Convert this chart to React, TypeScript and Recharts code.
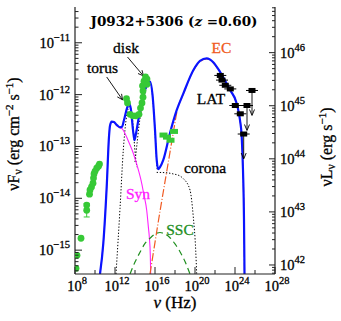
import React from "react";
import {
  ComposedChart,
  Line,
  Scatter,
  XAxis,
  YAxis,
  ErrorBar,
  ReferenceDot,
  ReferenceLine,
} from "recharts";

// all values are log10(nu / Hz) and log10(nuFnu / erg cm^-2 s^-1)
const totalModel = [
  [10.5, -15.46], [10.83, -14.87], [11.17, -13.78], [11.4, -12.81], [11.5, -12.6],
  [11.67, -12.52], [11.9, -12.53], [12.2, -12.59], [12.5, -12.63], [12.7, -12.62],
  [12.9, -12.49], [13.2, -12.26], [13.43, -12.17], [13.6, -12.3], [13.8, -12.68],
  [13.95, -12.88], [14.1, -12.75], [14.5, -12.3], [15.0, -11.91], [15.3, -11.78],
  [15.5, -11.75], [15.75, -12.0], [16.0, -12.68], [16.17, -13.26], [16.33, -13.44],
  [16.5, -13.4], [16.83, -13.26], [17.5, -12.74], [18.17, -12.3], [18.83, -11.98],
  [19.83, -11.53], [20.5, -11.35], [21.17, -11.3], [21.8, -11.37], [22.5, -11.56],
  [23.5, -11.91], [24.17, -12.17], [24.5, -12.49], [24.67, -12.81], [24.8, -13.46],
  [24.9, -14.42], [24.95, -15.46],
];
const synchrotron = [
  [10.5, -15.46], [10.83, -14.87], [11.17, -13.78], [11.4, -12.81], [11.5, -12.6],
  [11.67, -12.53], [11.9, -12.54], [12.2, -12.6], [12.5, -12.64], [12.67, -12.65],
  [13.0, -12.75], [13.3, -12.88], [13.83, -13.13], [14.2, -13.36], [14.67, -13.71],
  [14.9, -13.94], [15.17, -14.23], [15.35, -14.58], [15.43, -14.74], [15.53, -15.1],
  [15.57, -15.46],
];
const ssc = [
  [13.5, -15.46], [14.0, -15.23], [14.5, -15.04], [15.0, -14.87], [15.5, -14.77],
  [16.0, -14.69], [16.5, -14.66], [17.0, -14.69], [17.5, -14.76], [18.0, -14.88],
  [18.5, -15.03], [19.0, -15.22], [19.5, -15.46],
];
const externalCompton = [
  [15.5, -15.46], [16.0, -14.85], [16.5, -14.25], [17.0, -13.68], [17.5, -13.11],
  [17.9, -12.65], [18.17, -12.35], [18.83, -11.99], [19.83, -11.54], [20.5, -11.36],
  [21.17, -11.31], [21.8, -11.38], [22.5, -11.57], [23.5, -11.92], [24.17, -12.18],
  [24.5, -12.5], [24.67, -12.82], [24.8, -13.47], [24.9, -14.43], [24.95, -15.46],
];
const torus = [
  [12.1, -15.46], [12.5, -14.2], [12.83, -13.07], [13.1, -12.5], [13.3, -12.28],
  [13.45, -12.23], [13.6, -12.28], [13.75, -12.46], [13.9, -12.85], [14.05, -13.2],
  [14.2, -13.4],
];
const disk = [
  [14.0, -13.3], [14.2, -12.95], [14.4, -12.6], [14.7, -12.25], [15.0, -11.97],
  [15.3, -11.8], [15.5, -11.77], [15.75, -12.02], [16.0, -12.7], [16.17, -13.3],
  [16.22, -13.45],
];
const corona = [
  [16.17, -13.5], [17.0, -13.505], [17.83, -13.53], [18.5, -13.57], [18.83, -13.62],
  [19.5, -13.84], [19.83, -14.36], [20.07, -15.0], [20.17, -15.46],
];

const radioData = [
  [8.1, -15.35], [8.2, -15.1], [8.6, -14.77], [9.17, -14.13], [9.45, -13.92],
  [9.5, -13.84], [9.65, -13.78], [9.8, -13.71], [9.85, -13.61], [9.9, -13.53],
  [10.0, -13.48], [10.17, -13.42], [10.35, -13.38], [10.45, -13.34],
];
const radioWithError = [[9.17, -14.23, 0.13]];
const opticalData = [
  [13.15, -12.08], [13.25, -12.16], [13.5, -12.38], [13.8, -12.41], [14.1, -12.41],
  [14.4, -12.38], [14.55, -12.26], [14.7, -12.16], [14.8, -12.05], [14.8, -11.93],
  [14.75, -11.83], [14.9, -11.74], [15.05, -11.66], [15.2, -11.7], [15.2, -11.8],
];
const xrayData = [[16.85, -12.78], [17.2, -12.82], [17.55, -12.88], [17.9, -12.71]];
const latData = [
  [22.53, -11.63], [22.7, -11.72], [23.03, -11.82], [23.53, -11.89], [24.03, -12.21],
  [24.53, -12.37],
];
const latLimits = [[25.7, -11.92], [25.2, -12.21], [24.87, -12.76]];

const xMajor = [8, 12, 16, 20, 24, 28];
const xMinor = [10, 14, 18, 22, 26];
const fluxMajor = [-15, -14, -13, -12, -11];
const lumMajor = [42, 43, 44, 45, 46];
const fluxDomain = [-15.46, -10.31];
const lumDomain = [41.83, 46.86];

const labels = [
  { text: "torus", x: 10.75, y: -11.58, color: "#000" },
  { text: "disk", x: 13.1, y: -11.2, color: "#000" },
  { text: "EC", x: 22.65, y: -11.2, color: "#f05a22" },
  { text: "LAT", x: 21.6, y: -12.18, color: "#000" },
  { text: "corona", x: 21.0, y: -13.52, color: "#000" },
  { text: "Syn", x: 14.3, y: -14.01, color: "#ff22ff" },
  { text: "SSC", x: 18.5, y: -14.7, color: "#1f8f1f" },
];
const pointers = [
  [[11.17, -11.66], [12.75, -12.1]],
  [[13.25, -11.275], [14.85, -11.64]],
];

const pts = (rows: number[][]) => rows.map(([x, y, e]) => ({ x, y, e }));

const minorTicks = (majors: number[], dom: number[]) => {
  const out: number[] = [];
  for (let n = Math.floor(dom[0]); n <= Math.ceil(dom[1]); n++) {
    for (let k = 1; k <= 9; k++) {
      const v = n + Math.log10(k);
      if (v >= dom[0] && v <= dom[1]) out.push(+v.toFixed(5));
    }
  }
  return out.concat(majors.filter((m) => !out.includes(m)));
};

const SERIF = "'Liberation Serif', 'DejaVu Serif', serif";
const isMajor = (v: number) => Math.abs(v - Math.round(v)) < 1e-6;
const AX = "#222";
// slightly heavier glyphs, like the TeX rendering of the original
const heavy = (color: string) => ({ fill: color, stroke: color, strokeWidth: 0.3 });

function LeftTick({ x, y, payload }: any) {
  const v = payload.value as number;
  const major = isMajor(v);
  return (
    <g>
      <line x1={x} y1={y} x2={x + (major ? 7 : 3.5)} y2={y} stroke={AX} />
      {major && (
        <text x={x - 5} y={y + 5} textAnchor="end" fontFamily={SERIF} fontSize={14.5} {...heavy("#000")}>
          10<tspan dy={-7} fontSize={10.5}>{"\u2212" + Math.round(-v)}</tspan>
        </text>
      )}
    </g>
  );
}

function RightTick({ x, y, payload }: any) {
  const v = payload.value as number;
  const major = isMajor(v);
  return (
    <g>
      <line x1={x} y1={y} x2={x - (major ? 6 : 3)} y2={y} stroke={AX} />
      {major && (
        <text x={x + 5} y={y + 5} textAnchor="start" fontFamily={SERIF} fontSize={14.5} {...heavy("#000")}>
          10<tspan dy={-7} fontSize={10.5}>{Math.round(v)}</tspan>
        </text>
      )}
    </g>
  );
}

function BottomTick({ x, y, payload }: any) {
  const v = payload.value as number;
  const major = xMajor.includes(v);
  return (
    <g>
      <line x1={x} y1={y} x2={x} y2={y - (major ? 7 : 4)} stroke={AX} />
      {major && (
        <text x={x + 2} y={y + 17} textAnchor="middle" fontFamily={SERIF} fontSize={14.5} {...heavy("#000")}>
          10<tspan dy={-7} fontSize={10.5}>{v}</tspan>
        </text>
      )}
    </g>
  );
}

function TopTick({ x, y, payload }: any) {
  const major = xMajor.includes(payload.value);
  return <line x1={x} y1={y} x2={x} y2={y + (major ? 7 : 4)} stroke={AX} />;
}

const GreenDot = ({ cx, cy }: any) => <circle cx={cx} cy={cy} r={3.4} fill="#36c936" />;
const GreenBox = ({ cx, cy }: any) => (
  <rect x={cx - 4} y={cy - 2.5} width={8} height={5} fill="#36c936" />
);
const LatBox = ({ cx, cy }: any) => (
  <g>
    <line x1={cx - 6} x2={cx + 6} y1={cy} y2={cy} stroke="#000" />
    <rect x={cx - 3.5} y={cy - 2.5} width={7} height={5} fill="#000" />
  </g>
);
const LatLimit = ({ cx, cy }: any) => (
  <g>
    <line x1={cx - 6} x2={cx + 6} y1={cy} y2={cy} stroke="#000" />
    <rect x={cx - 3.5} y={cy - 2.5} width={7} height={5} fill="#000" />
    <line x1={cx} x2={cx} y1={cy} y2={cy + 24} stroke="#000" strokeWidth={0.9} />
    <path d={`M${cx - 2.5},${cy + 19} L${cx},${cy + 25} L${cx + 2.5},${cy + 19}`} fill="none" stroke="#000" strokeWidth={0.9} />
  </g>
);

const ArrowShape = ({ x1, y1, x2, y2 }: any) => {
  const a = Math.atan2(y2 - y1, x2 - x1);
  const L = 6;
  const w = 0.45;
  return (
    <g>
      <line x1={x1} y1={y1} x2={x2} y2={y2} stroke="#000" strokeWidth={0.9} />
      <path
        d={`M${x2 - L * Math.cos(a - w)},${y2 - L * Math.sin(a - w)} L${x2},${y2} L${x2 - L * Math.cos(a + w)},${y2 - L * Math.sin(a + w)}`}
        fill="none"
        stroke="#000"
        strokeWidth={0.9}
      />
    </g>
  );
};

export default function App() {
  const curve = (rows: number[][], stroke: string, width: number, dash?: string) => (
    <Line
      data={pts(rows)}
      dataKey="y"
      yAxisId="L"
      type="monotone"
      stroke={stroke}
      strokeWidth={width}
      strokeDasharray={dash}
      dot={false}
      activeDot={false}
      isAnimationActive={false}
    />
  );

  return (
    <div style={{ position: "absolute", left: 0, top: 0, width: 341, height: 321, background: "#fff" }}>
      <ComposedChart width={341} height={321} margin={{ top: 7, right: 6, bottom: 7, left: 15 }}>
        <XAxis
          type="number"
          dataKey="x"
          domain={[8, 28]}
          allowDataOverflow
          ticks={[...xMajor, ...xMinor].sort((a, b) => a - b)}
          interval={0}
          tickSize={0}
          tickMargin={0}
          tick={<BottomTick />}
          axisLine={{ stroke: AX, strokeWidth: 1.2 }}
          height={40}
        />
        <XAxis
          xAxisId="top"
          orientation="top"
          type="number"
          dataKey="x"
          domain={[8, 28]}
          allowDataOverflow
          ticks={[...xMajor, ...xMinor].sort((a, b) => a - b)}
          interval={0}
          tickSize={0}
          tickMargin={0}
          tick={<TopTick />}
          axisLine={{ stroke: AX, strokeWidth: 1.2 }}
          height={0}
        />
        <YAxis
          yAxisId="L"
          type="number"
          dataKey="y"
          domain={fluxDomain}
          allowDataOverflow
          ticks={minorTicks(fluxMajor, fluxDomain)}
          interval={0}
          tickSize={0}
          tickMargin={0}
          tick={<LeftTick />}
          axisLine={{ stroke: AX, strokeWidth: 1.2 }}
          width={60}
        />
        <YAxis
          yAxisId="R"
          orientation="right"
          type="number"
          domain={lumDomain}
          allowDataOverflow
          ticks={minorTicks(lumMajor, lumDomain)}
          interval={0}
          tickSize={0}
          tickMargin={0}
          tick={<RightTick />}
          axisLine={{ stroke: AX, strokeWidth: 1.2 }}
          width={60}
        />

        {curve(torus, "#000", 1, "1.3 1.8")}
        {curve(disk, "#000", 1, "1.3 1.8")}
        {curve(corona, "#000", 1, "1.3 1.8")}
        {curve(synchrotron, "#ff22ff", 1.1)}
        {curve(ssc, "#1f8f1f", 1.2, "6 4")}
        {curve(externalCompton, "#f05a22", 1.2, "8 2 1 2")}

        <Scatter data={pts(radioData)} dataKey="y" yAxisId="L" shape={<GreenDot />} isAnimationActive={false} />
        <Scatter data={pts(radioWithError)} dataKey="y" yAxisId="L" shape={<GreenDot />} isAnimationActive={false}>
          <ErrorBar dataKey="e" direction="y" width={3} stroke="#36c936" strokeWidth={1} />
        </Scatter>
        <Scatter data={pts(opticalData)} dataKey="y" yAxisId="L" shape={<GreenDot />} isAnimationActive={false} />
        <Scatter data={pts(xrayData)} dataKey="y" yAxisId="L" shape={<GreenBox />} isAnimationActive={false} />
        <Scatter data={pts(latData)} dataKey="y" yAxisId="L" shape={<LatBox />} isAnimationActive={false} />
        <Scatter data={pts(latLimits)} dataKey="y" yAxisId="L" shape={<LatLimit />} isAnimationActive={false} />

        {curve(totalModel, "#0a14ff", 2.2)}

        {pointers.map(([a, b], i) => (
          <ReferenceLine
            key={"p" + i}
            yAxisId="L"
            segment={[{ x: a[0], y: a[1] }, { x: b[0], y: b[1] }]}
            ifOverflow="visible"
            shape={<ArrowShape />}
          />
        ))}
        {labels.map((l) => (
          <ReferenceDot
            key={l.text}
            yAxisId="L"
            x={l.x}
            y={l.y}
            r={0}
            ifOverflow="visible"
            shape={(p: any) => (
              <text x={p.cx} y={p.cy} textAnchor="middle" fontFamily={SERIF} fontSize={15.5} {...heavy(l.color)}>
                {l.text}
              </text>
            )}
          />
        ))}
      </ComposedChart>

      <svg width={341} height={321} style={{ position: "absolute", left: 0, top: 0, pointerEvents: "none" }}>
        <text x={174} y={26} textAnchor="middle" fontFamily="'DejaVu Serif', serif" fontWeight="bold" fontSize={13.5} fill="#000">
          J0932+5306 (<tspan fontStyle="italic">z</tspan> =0.60)
        </text>
        <text x={175} y={308} textAnchor="middle" fontFamily={SERIF} fontSize={17} {...heavy("#000")}>
          <tspan fontStyle="italic">ν</tspan> (Hz)
        </text>
        <text transform="translate(19,134) rotate(-90)" textAnchor="middle" fontFamily={SERIF} fontSize={16} {...heavy("#000")}>
          νF<tspan dy={3} fontSize={11.5}>ν</tspan>
          <tspan dy={-3}> (erg cm</tspan>
          <tspan dy={-6} fontSize={11}>−2</tspan>
          <tspan dy={6}> s</tspan>
          <tspan dy={-6} fontSize={11}>−1</tspan>
          <tspan dy={6}>)</tspan>
        </text>
        <text transform="translate(332,147) rotate(-90)" textAnchor="middle" fontFamily={SERIF} fontSize={16} {...heavy("#000")}>
          νL<tspan dy={3} fontSize={11.5}>ν</tspan>
          <tspan dy={-3}> (erg s</tspan>
          <tspan dy={-6} fontSize={11}>−1</tspan>
          <tspan dy={6}>)</tspan>
        </text>
      </svg>
    </div>
  );
}
